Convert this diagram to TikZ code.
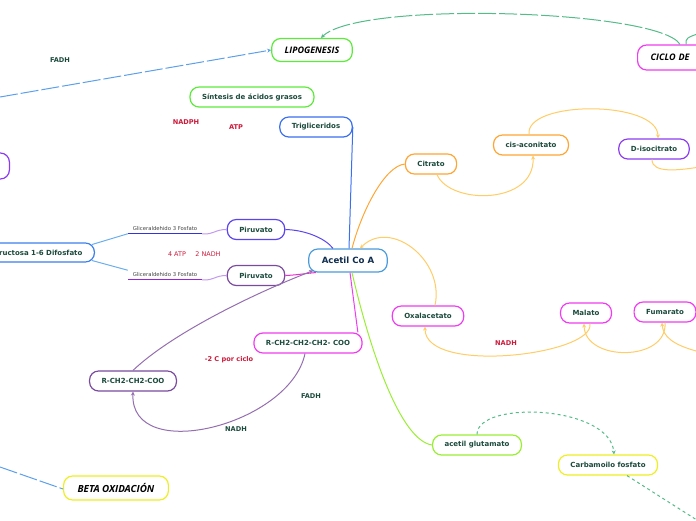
\documentclass[tikz,border=0pt]{standalone}
\usepackage{fontspec}
\setmainfont{DejaVu Sans}
\newfontfamily\titlefont{Open Sans}
\usetikzlibrary{arrows.meta,positioning}

\definecolor{nodetext}{HTML}{1B4A3C}
\definecolor{acetiltext}{HTML}{0F2D4F}
\definecolor{notered}{HTML}{CC1A3A}
\definecolor{brightgreen}{HTML}{5CEB3A}
\definecolor{trigliblue}{HTML}{3A6FF0}
\definecolor{acetilblue}{HTML}{4A9BDC}
\definecolor{citorange}{HTML}{FFA533}
\definecolor{paleorange}{HTML}{FFCC66}
\definecolor{isopurple}{HTML}{8C3CF0}
\definecolor{cyclepink}{HTML}{F03CF0}
\definecolor{betapurple}{HTML}{7A4A9E}
\definecolor{piruindigo}{HTML}{5A44F0}
\definecolor{limegreen}{HTML}{99EE33}
\definecolor{yellowline}{HTML}{EEEE22}
\definecolor{dashgreen}{HTML}{55BB88}
\definecolor{dashblue}{HTML}{5CA0EC}
\definecolor{fructblue}{HTML}{3A7FEE}
\definecolor{lightblue}{HTML}{6AAEEE}
\definecolor{lilac}{HTML}{C299EE}
\definecolor{glicblue}{HTML}{3333DD}
\definecolor{glicpurple}{HTML}{9922DD}

\begin{document}
\begin{tikzpicture}[x=1pt, y=-1pt,
        topicnode/.style={rounded corners=9pt, draw, line width=1.2pt, fill=white, text=nodetext, font=\fontsize{7}{8}\selectfont\bfseries, inner xsep=12pt, inner ysep=2pt, minimum height=20pt},
        maintopic/.style={topicnode, text=black, font=\titlefont\fontsize{9}{10}\selectfont\bfseries\itshape, inner xsep=13pt, minimum height=23pt},
        underlined/.style={text=black!75, font=\fontsize{5.3}{6}\selectfont, inner xsep=0pt, inner ysep=2.5pt, minimum width=74pt},
        notered/.style={text=notered, font=\fontsize{6.6}{7}\selectfont\bfseries},
        notegreen/.style={text=nodetext, font=\fontsize{6.6}{7}\selectfont\bfseries},
        arr/.style={-{Stealth[length=4pt,width=4pt]}},
        link/.style={line width=1pt},
]
        \useasboundingbox (0,0) rectangle (696,520);

        % main topics
        \node[maintopic, draw=brightgreen] (lipo) at (312,50) {LIPOGENESIS};
        \node[maintopic, draw=cyclepink, anchor=west, minimum height=25pt, text width=100pt, align=left] (ciclo) at (637,57.5) {CICLO DE};
        \node[maintopic, draw=yellowline, font=\titlefont\fontsize{9.8}{10}\selectfont\bfseries\itshape, inner xsep=14pt, minimum height=24pt] (beta) at (116,488) {BETA OXIDACIÓN};

        % lipogenesis side
        \node[topicnode, draw=brightgreen] (sintesis) at (252,97) {Síntesis de ácidos grasos};
        \node[topicnode, draw=trigliblue] (trigli) at (316,127) {Trigliceridos};
        \node[topicnode, draw=isopurple, anchor=east, minimum width=60pt, minimum height=26pt] (leftnode) at (10,166) {};

        % glucolisis
        \node[topicnode, draw=fructblue, anchor=east, minimum height=19pt] (fructosa) at (95,252.5) {Fructosa 1-6 Difosfato};
        \node[underlined] (glic1) at (165,229) {Gliceraldehido 3 Fosfato};
        \node[underlined] (glic2) at (165,275) {Gliceraldehido 3 Fosfato};
        \node[topicnode, draw=piruindigo] (piru1) at (256,229.5) {Piruvato};
        \node[topicnode, draw=betapurple] (piru2) at (256,275.5) {Piruvato};
        \node[topicnode, draw=acetilblue, text=acetiltext, font=\fontsize{8.6}{9}\selectfont\bfseries, inner xsep=13pt, minimum height=23pt] (acetil) at (348,260.5) {Acetil Co A};

        % ciclo
        \node[topicnode, draw=citorange] (citrato) at (431,164) {Citrato};
        \node[topicnode, draw=citorange] (cisacon) at (531,145) {cis-aconitato};
        \node[topicnode, draw=isopurple] (disocit) at (654,149) {D-isocitrato};
        \node[topicnode, draw=cyclepink] (oxal) at (428,316) {Oxalacetato};
        \node[topicnode, draw=cyclepink] (malato) at (586,313) {Malato};
        \node[topicnode, draw=cyclepink] (fumarato) at (665,312) {Fumarato};

        % beta oxidacion
        \node[topicnode, draw=cyclepink] (rch3) at (308,343) {R-CH2-CH2-CH2- COO};
        \node[topicnode, draw=betapurple] (rch2) at (133,381) {R-CH2-CH2-COO};

        % urea
        \node[topicnode, draw=limegreen] (acglu) at (477,445) {acetil glutamato};
        \node[topicnode, draw=yellowline] (carbam) at (608,465) {Carbamoilo fosfato};

        % labels
        \node[notegreen] (fadh1) at (60,60) {FADH};
        \node[notered] (nadph) at (186,122) {NADPH};
        \node[notered] (atp) at (236,127) {ATP};
        \node[text=notered, font=\fontsize{6.4}{7}\selectfont] (atp4) at (177,254) {4 ATP};
        \node[text=notered, font=\fontsize{6.4}{7}\selectfont] (nadh2) at (208,254) {2 NADH};
        \node[notered] (nadh1) at (506,343) {NADH};
        \node[notered] (porciclo) at (229,360) {-2 C por ciclo};
        \node[notegreen] (fadh2) at (311,396) {FADH};
        \node[notegreen] (nadh3) at (236,429) {NADH};

        % free ends
        \coordinate (leftfree) at (0,97);
        \coordinate (betafree) at (0,467);
        \coordinate (cicloout) at (700,33);
        \coordinate (isoout) at (700,167);
        \coordinate (fumin) at (700,352);
        \coordinate (carbout) at (700,522);

        % dashed links
        \draw[arr, dashblue, link, dash pattern=on 18pt off 3pt] (leftfree) -- (lipo.west);
        \draw[dashblue, link, dash pattern=on 18pt off 3pt] (betafree) -- ([yshift=-1pt]beta.west);
        \draw[arr, dashgreen, link, dash pattern=on 18pt off 3pt] ([xshift=43pt]ciclo.north west) .. controls (660,10) and (360,0) .. ([xshift=9pt]lipo.north);
        \draw[dashgreen, link] ([xshift=49pt]ciclo.north west) .. controls (686,38) .. (cicloout);
        \draw[arr, dashgreen, link, dash pattern=on 3pt off 3pt] (acglu.north) .. controls (477,400) and (610,405) .. ([xshift=6pt]carbam.north);
        \draw[dashgreen, link, dash pattern=on 3pt off 3pt] ([xshift=19pt]carbam.south) -- (carbout);

        % glucolisis links
        \draw[line width=1.2pt, glicblue] (glic1.south west) -- (glic1.south east);
        \draw[line width=1.2pt, glicpurple] (glic2.south west) -- (glic2.south east);
        \draw[link, lightblue] ([xshift=-3pt,yshift=8pt]fructosa.east) -- (glic1.south west);
        \draw[link, lightblue] ([xshift=-3pt,yshift=-8pt]fructosa.east) -- (glic2.north west);
        \draw[link, lilac] (glic1.south east) .. controls (214,235) and (214,229.5) .. (piru1.west);
        \draw[link, lilac] (glic2.south east) .. controls (214,281) and (214,275.5) .. (piru2.west);
        \draw[link, piruindigo] (piru1.east) .. controls (305,230) and (325,238) .. ([xshift=-15pt]acetil.north);
        \draw[link, cyclepink!80!purple] (piru2.east) .. controls (298,275) and (308,273) .. ([xshift=-32pt]acetil.south);
        \draw[link, trigliblue] (trigli.east) -- ([xshift=1pt]acetil.north);

        % ciclo links
        \draw[link, citorange] (citrato.west) .. controls (385,166) and (362,210) .. ([xshift=4pt]acetil.north);
        \draw[arr, link, paleorange] ([xshift=6pt]citrato.south) .. controls (450,205) and (535,205) .. ([xshift=2pt]cisacon.south);
        \draw[arr, link, paleorange] ([xshift=-2pt]cisacon.north) .. controls (525,100) and (658,100) .. ([xshift=4pt]disocit.north);
        \draw[link, paleorange] ([xshift=-2pt]disocit.south) .. controls (652,174) and (680,170) .. (isoout);
        \draw[arr, link, paleorange] ([xshift=7pt]oxal.north) .. controls (445,260) and (390,218) .. ([xshift=12pt]acetil.north);
        \draw[arr, link, paleorange] ([xshift=4pt]malato.south) .. controls (595,355) and (425,375) .. ([xshift=-3pt]oxal.south);
        \draw[arr, link, paleorange] (fumarato.south) .. controls (668,362) and (585,362) .. ([xshift=-2pt]malato.south);
        \draw[arr, link, paleorange] (fumin) .. controls (672,345) and (663,336) .. ([xshift=-3pt]fumarato.south);

        % beta oxidacion links
        \draw[link, cyclepink] ([xshift=2pt]acetil.south) -- (rch3.12);
        \draw[arr, link, betapurple!80] (rch2.north) .. controls (170,335) and (250,295) .. ([xshift=5pt,yshift=2pt]acetil.south west);
        \draw[arr, link, betapurple!80] ([xshift=-3pt]rch3.south) .. controls (290,425) and (130,465) .. (rch2.south);

        % urea link
        \draw[link, limegreen] ([xshift=4pt]acetil.south) .. controls (370,350) and (400,440) .. (acglu.west);
\end{tikzpicture}
\end{document}
